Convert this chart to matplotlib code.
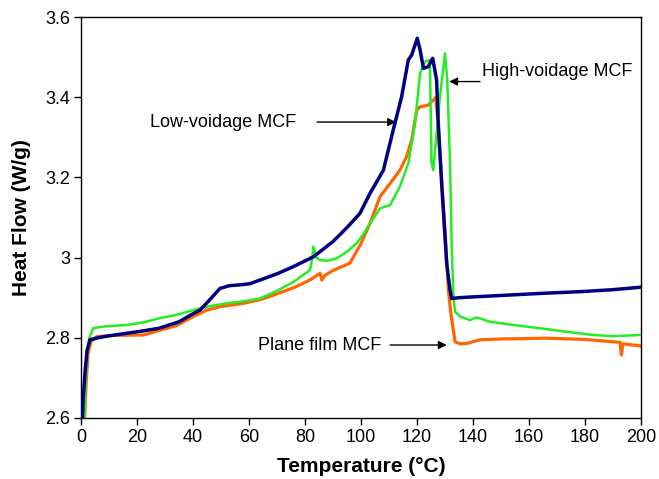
import matplotlib.pyplot as plt
from matplotlib.ticker import FuncFormatter, MultipleLocator

plt.rcParams['font.family'] = ['Liberation Sans', 'DejaVu Sans']

# Low-voidage MCF
low_t = [0.5, 0.8, 1.5, 2.2, 3.2, 6, 10, 16, 22, 28, 35, 40, 42.5, 46, 49.6, 53,
         56.8, 60.4, 63.9, 70.5, 76, 83, 90, 95, 99.6, 103.2, 108, 111.5, 114.5,
         116.9, 118.1, 120.1, 121.1, 122.3, 124, 125.6, 127, 127.6, 128.8, 130,
         130.6, 131.8, 132.4, 135, 140, 154, 165, 178.2, 190, 199.6]
low_hf = [2.6, 2.65, 2.72, 2.77, 2.795, 2.80, 2.805, 2.811, 2.817, 2.824, 2.84,
          2.86, 2.869, 2.895, 2.923, 2.93, 2.932, 2.935, 2.944, 2.961, 2.978,
          3.002, 3.04, 3.075, 3.11, 3.16, 3.218, 3.318, 3.401, 3.493, 3.505,
          3.547, 3.518, 3.472, 3.476, 3.497, 3.443, 3.335, 3.185, 3.052, 2.986,
          2.919, 2.898, 2.90, 2.902, 2.907, 2.911, 2.915, 2.92, 2.926]

# High-voidage MCF
high_t = [1.2, 1.6, 2.2, 3, 4.4, 8, 16.3, 22, 28.2, 34, 40.1, 46, 52, 58, 63.9,
          70.5, 76, 81.8, 82.6, 83, 84, 85.4, 88, 91.3, 95, 98.5, 101, 103.2,
          106.8, 110.4, 113.9, 116.9, 119.3, 121.1, 122.9, 124.6, 125.2, 125.8,
          128.2, 130, 130.8, 131.8, 132.4, 133, 133.6, 135.4, 138.9, 141.3,
          146.1, 154.4, 163.9, 173.5, 183, 190, 199.6]
high_hf = [2.6, 2.68, 2.76, 2.80, 2.824, 2.828, 2.832, 2.838, 2.849, 2.857,
           2.869, 2.879, 2.886, 2.891, 2.898, 2.919, 2.94, 2.969, 3.0, 3.027,
           3.0, 2.994, 2.992, 2.998, 3.015, 3.036, 3.06, 3.085, 3.123, 3.131,
           3.177, 3.235, 3.335, 3.46, 3.489, 3.493, 3.235, 3.218, 3.401, 3.509,
           3.443, 3.235, 3.027, 2.903, 2.865, 2.853, 2.844, 2.851, 2.84, 2.832,
           2.824, 2.815, 2.807, 2.804, 2.807]

# Plane film MCF
plane_t = [1.3, 1.8, 2.5, 3.5, 5.6, 12, 22.3, 28.2, 34, 40.1, 44.9, 50, 58, 64,
           70.5, 76, 82, 85.4, 86, 87, 90, 96, 100, 103.2, 106.8, 110.4, 113.9,
           116.3, 118.1, 119.9, 121.1, 124, 126.4, 126.8, 127.6, 128.8, 130,
           131.2, 132.1, 133.6, 135.4, 137.7, 142.5, 150, 166.3, 180, 190, 192.5,
           193, 193.5, 199.6]
plane_hf = [2.6, 2.68, 2.76, 2.79, 2.803, 2.806, 2.807, 2.819, 2.83, 2.853,
            2.869, 2.878, 2.886, 2.895, 2.911, 2.925, 2.945, 2.961, 2.944, 2.955,
            2.968, 2.986, 3.035, 3.085, 3.152, 3.185, 3.218, 3.252, 3.293, 3.368,
            3.376, 3.38, 3.397, 3.40, 3.318, 3.193, 3.069, 2.92, 2.861, 2.79,
            2.785, 2.786, 2.795, 2.797, 2.799, 2.796, 2.79, 2.789, 2.757, 2.785,
            2.78]

fig = plt.figure(figsize=(6.59, 4.79), dpi=100)
ax = fig.add_axes([81 / 659, 1 - 418 / 479, 560 / 659, 401 / 479])

ax.plot(plane_t, plane_hf, color='#FF6600', lw=2.3, zorder=2)
ax.plot(high_t, high_hf, color='#22EE22', lw=1.8, zorder=3)
ax.plot(low_t, low_hf, color='#000080', lw=2.5, zorder=4)

arrow = dict(arrowstyle='-|>', color='black', lw=1, mutation_scale=12, shrinkA=0, shrinkB=0)
ax.annotate('', xy=(112.5, 3.338), xytext=(84.3, 3.338), arrowprops=arrow)
ax.text(50.7, 3.338, 'Low-voidage MCF', ha='center', va='center', fontsize=13)
ax.annotate('', xy=(131.5, 3.439), xytext=(142.5, 3.439), arrowprops=arrow)
ax.text(170, 3.464, 'High-voidage MCF', ha='center', va='center', fontsize=13)
ax.annotate('', xy=(130.6, 2.782), xytext=(110.4, 2.782), arrowprops=arrow)
ax.text(85.4, 2.782, 'Plane film MCF', ha='center', va='center', fontsize=13)

ax.set_xlim(0, 200)
ax.set_ylim(2.6, 3.6)
ax.xaxis.set_major_locator(MultipleLocator(20))
ax.yaxis.set_major_locator(MultipleLocator(0.2))
ax.yaxis.set_major_formatter(FuncFormatter(lambda v, p: '{:g}'.format(round(v, 2))))
ax.tick_params(direction='out', length=5, width=1, labelsize=13, pad=3)
for s in ax.spines.values():
    s.set_linewidth(1)

ax.set_xlabel('Temperature (°C)', fontsize=15, fontweight='bold', labelpad=8)
ax.set_ylabel('Heat Flow (W/g)', fontsize=15, fontweight='bold', labelpad=10)

fig.savefig('out.png', dpi=100)
